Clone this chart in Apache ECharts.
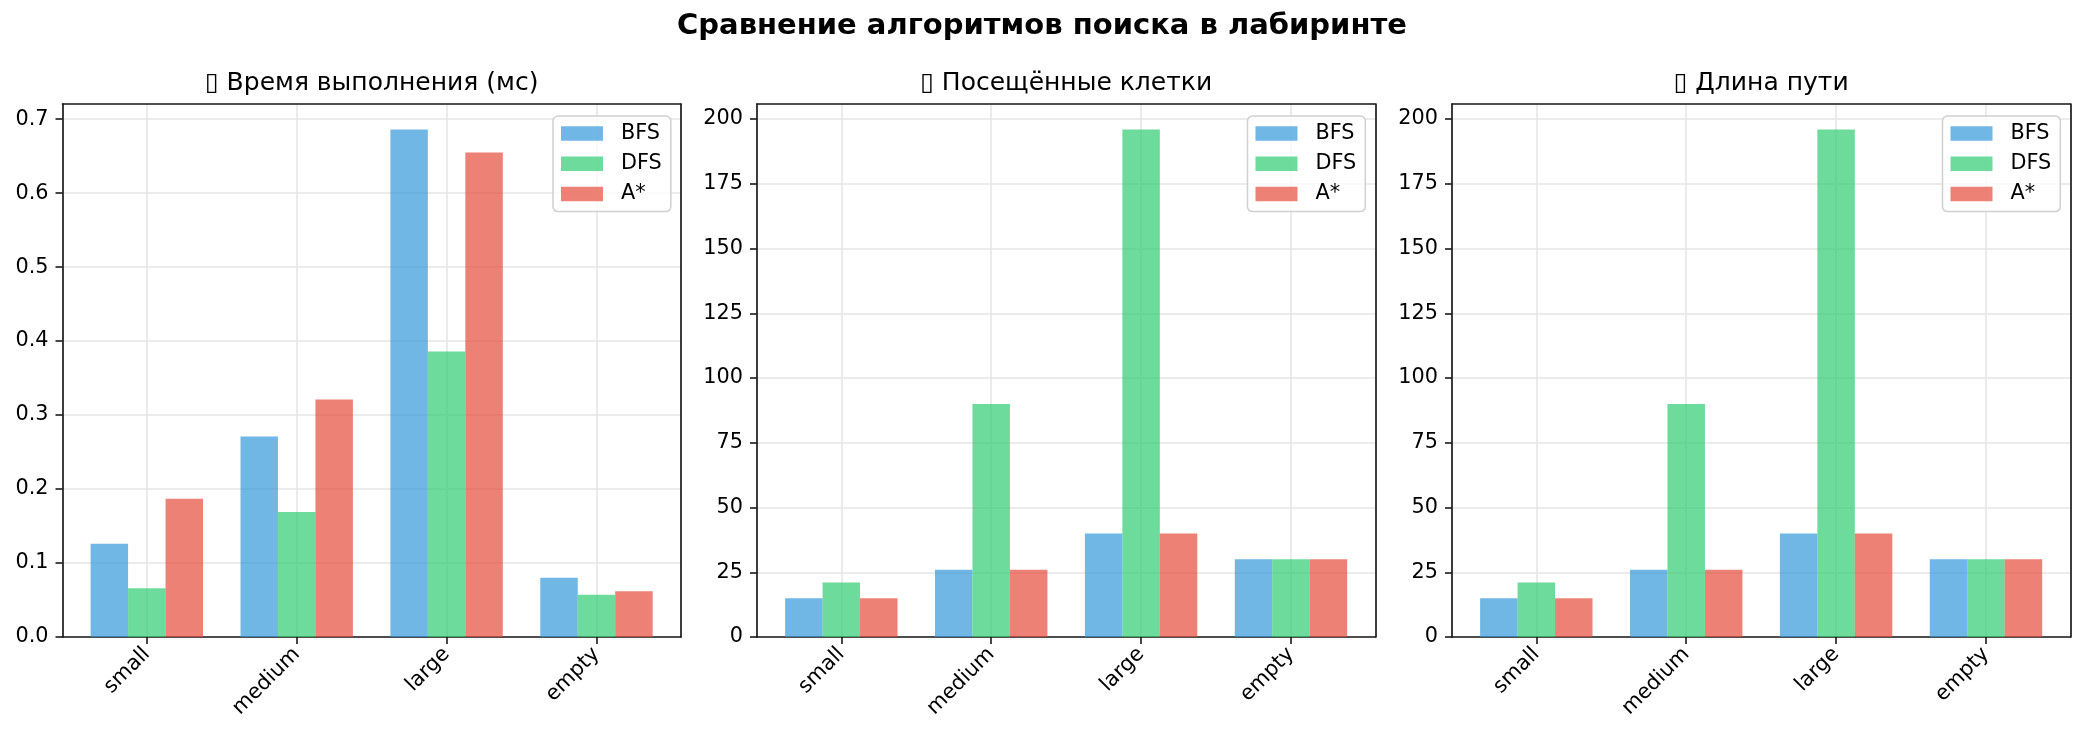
<!DOCTYPE html>
<html>
<head>
<meta charset="utf-8">
<script src="https://cdn.jsdelivr.net/npm/echarts@6/dist/echarts.min.js"></script>
<style>
  html, body { margin: 0; padding: 0; background: #fff; }
  #main { width: 2085px; height: 741px; }
</style>
</head>
<body>
<div id="main"></div>
<script>
const categories = ['small', 'medium', 'large', 'empty'];
const seriesNames = ['BFS', 'DFS', 'A*'];

// время выполнения, мс
const timeBFS = [0.126, 0.271, 0.686, 0.080];
const timeDFS = [0.066, 0.169, 0.386, 0.057];
const timeAstar = [0.187, 0.321, 0.655, 0.062];

// посещённые клетки
const visitedBFS = [15, 26, 40, 30];
const visitedDFS = [21, 90, 196, 30];
const visitedAstar = [15, 26, 40, 30];

// длина пути
const pathBFS = [15, 26, 40, 30];
const pathDFS = [21, 90, 196, 30];
const pathAstar = [15, 26, 40, 30];

const panelTitles = ['▯ Время выполнения (мс)', '▯ Посещённые клетки', '▯ Длина пути'];
const yMax = [0.7205, 205.8];
const yStep = [0.1, 25];

const colors = ['#3498db', '#2ecc71', '#e74c3c'];
const font = 'DejaVu Sans';

var myChart = echarts.init(document.getElementById('main'), null, { renderer: 'canvas' });

const panels = [
  { data: [timeBFS, timeDFS, timeAstar], max: yMax[0], step: yStep[0], digits: 1 },
  { data: [visitedBFS, visitedDFS, visitedAstar], max: yMax[1], step: yStep[1], digits: 0 },
  { data: [pathBFS, pathDFS, pathAstar], max: yMax[1], step: yStep[1], digits: 0 }
];

const plotLeft = [62.5, 757, 1452];
const plotW = 618.3;
const plotTop = 104;
const plotH = 533;
const unit = plotW / 4.125;

let grid = [], xAxis = [], yAxis = [], series = [], legend = [];
let title = [{
  text: 'Сравнение алгоритмов поиска в лабиринте',
  left: 1042, top: 12, textAlign: 'center', padding: 0,
  textStyle: { fontFamily: font, fontSize: 29, fontWeight: 'bold', color: '#000', lineHeight: 29 }
}];

const gridColor = '#e6e6e6';
const spine = '#1a1a1a';
const spineLine = { show: true, onZero: false, lineStyle: { color: spine, width: 1.7 } };

panels.forEach((p, i) => {
  const L = plotLeft[i];
  const g = xAxis.length ? null : null;
  title.push({
    text: panelTitles[i],
    left: L + plotW / 2, top: 71, textAlign: 'center', padding: 0,
    textStyle: { fontFamily: font, fontSize: 25, fontWeight: 'normal', color: '#000', lineHeight: 25 }
  });
  // рамка с осью Y
  grid.push({ left: L, top: plotTop, width: plotW, height: plotH, containLabel: false });
  // область для столбцов
  grid.push({ left: L + 0.5625 * unit, top: plotTop, width: 3 * unit, height: plotH, containLabel: false });
  const frame = 2 * i, inner = 2 * i + 1;

  // рамка: нижняя и верхняя линии
  ['bottom', 'top'].forEach(pos => {
    xAxis.push({
      gridIndex: frame, type: 'value', position: pos, min: 0, max: 1,
      axisLine: spineLine, axisTick: { show: false }, axisLabel: { show: false }, splitLine: { show: false }
    });
  });
  yAxis.push({
    gridIndex: frame, type: 'value', position: 'left', min: 0, max: p.max, interval: p.step,
    axisLine: spineLine,
    axisTick: { show: true, length: 7, lineStyle: { color: spine, width: 1.6 } },
    axisLabel: {
      fontFamily: font, fontSize: 20.8, color: '#000', margin: 14,
      formatter: v => v.toFixed(p.digits)
    },
    splitLine: { show: true, lineStyle: { color: gridColor, width: 1.6 } }
  });
  yAxis.push({
    gridIndex: frame, type: 'value', position: 'right', min: 0, max: 1,
    axisLine: spineLine, axisTick: { show: false }, axisLabel: { show: false }, splitLine: { show: false }
  });

  const xi = xAxis.length;
  xAxis.push({
    gridIndex: inner, type: 'category', data: categories, boundaryGap: false,
    axisLine: { show: false },
    axisTick: { show: true, length: 7, lineStyle: { color: spine, width: 1.6 } },
    axisLabel: { interval: 0, rotate: 45, fontFamily: font, fontSize: 20.8, color: '#000', margin: 14 },
    splitLine: { show: true, interval: 0, lineStyle: { color: gridColor, width: 1.6 } }
  });
  const yi = yAxis.length;
  yAxis.push({ gridIndex: inner, type: 'value', min: 0, max: p.max, show: false });

  p.data.forEach((vals, k) => {
    series.push({
      name: seriesNames[k], type: 'bar',
      xAxisIndex: xi, yAxisIndex: yi,
      data: vals, barWidth: 0.25 * unit, barGap: '0%',
      clip: false,
      itemStyle: { color: colors[k], opacity: 0.7 },
      emphasis: { disabled: true }
    });
  });

  legend.push({
    data: seriesNames, orient: 'vertical',
    right: 2085 - (L + plotW - 10), top: 116,
    itemWidth: 42, itemHeight: 14.5, itemGap: 9.3,
    padding: [7, 9, 7, 8],
    backgroundColor: 'rgba(255,255,255,0.8)',
    borderColor: '#d0d0d0', borderWidth: 1.5, borderRadius: 5,
    icon: 'rect',
    textStyle: { fontFamily: font, fontSize: 20.8, color: '#000', lineHeight: 21, padding: [0, 0, 0, 13] }
  });
});

let option = {
  animation: false,
  backgroundColor: '#fff',
  title: title,
  grid: grid,
  xAxis: xAxis,
  yAxis: yAxis,
  legend: legend,
  series: series
};
myChart.setOption(option);
</script>
</body>
</html>
